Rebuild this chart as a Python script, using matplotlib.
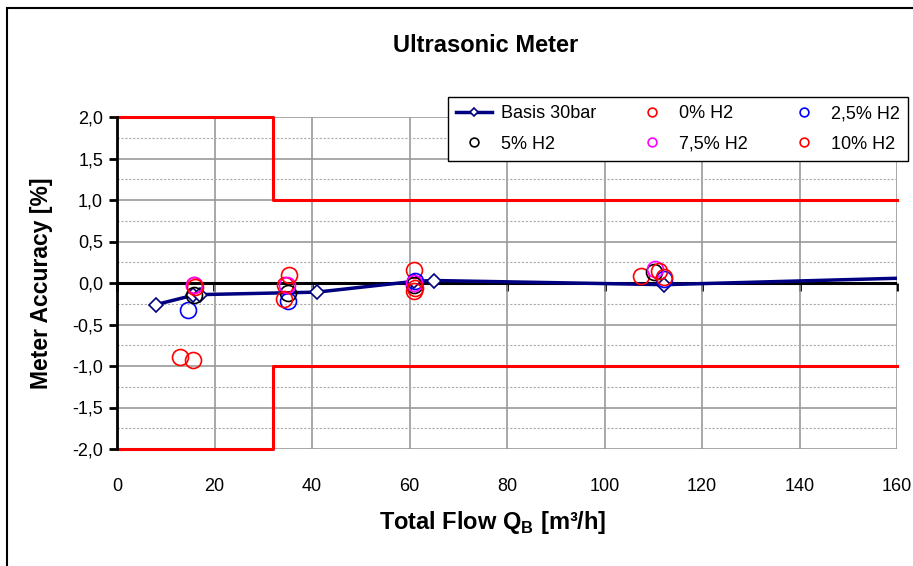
import numpy as np
import matplotlib.pyplot as plt
from matplotlib.patches import Rectangle
from matplotlib.ticker import MultipleLocator, FuncFormatter

plt.rcParams['font.family'] = ['Liberation Sans', 'DejaVu Sans']
plt.rcParams['mathtext.fontset'] = 'custom'
plt.rcParams['mathtext.rm'] = 'Liberation Sans'
plt.rcParams['mathtext.bf'] = 'Liberation Sans:bold'

# Basis 30bar reference curve
basis_x = [8.0, 15.5, 17.0, 41.0, 61.0, 65.0, 112.3, 168.0]
basis_y = [-0.26, -0.15, -0.14, -0.11, 0.02, 0.03, -0.02, 0.07]

# hydrogen blends
h0_x = [15.7, 34.5, 61.0, 107.5]
h0_y = [-0.02, -0.02, 0.16, 0.08]
h25_x = [14.6, 35.0, 61.1, 112.3]
h25_y = [-0.33, -0.22, 0.03, 0.05]
h5_x = [15.7, 35.0, 61.0, 110.2]
h5_y = [-0.15, -0.12, -0.02, 0.13]
h75_x = [15.8, 34.8, 60.9, 110.3]
h75_y = [-0.03, -0.03, 0.0, 0.17]
h10_x = [13.0, 15.6, 15.9, 35.3, 34.3, 61.1, 61.0, 111.2, 112.3]
h10_y = [-0.89, -0.93, -0.05, 0.10, -0.19, -0.06, -0.10, 0.14, 0.07]

# accuracy limits
lim_x = [0, 32, 32, 160]
lim_up = [2.0, 2.0, 1.0, 1.0]
lim_lo = [-2.0, -2.0, -1.0, -1.0]

fig = plt.figure(figsize=(9.13, 5.66), dpi=100)
ax = fig.add_axes([117/913, 1-449/566, 780/913, 332/566])

ax.set_xlim(0, 160)
ax.set_ylim(-2, 2)
ax.xaxis.set_major_locator(MultipleLocator(20))
ax.yaxis.set_major_locator(MultipleLocator(0.5))
ax.yaxis.set_minor_locator(MultipleLocator(0.25))
ax.grid(True, which='major', color='#999999', lw=1.2)
ax.grid(True, which='minor', axis='y', color='#aaaaaa', lw=0.8, ls=(0, (2, 1.5)))
ax.set_axisbelow(True)
for s in ['top', 'right', 'bottom']:
    ax.spines[s].set_visible(False)
ax.spines['left'].set_linewidth(2)
ax.yaxis.set_major_formatter(FuncFormatter(lambda v, p: f'{v:.1f}'.replace('.', ',')))
ax.tick_params(axis='y', which='major', length=6, width=2, labelsize=13, pad=4)
ax.tick_params(axis='y', which='minor', length=0)
ax.tick_params(axis='x', length=0, labelsize=13, pad=21)

# zero line with tick marks
ax.axhline(0, color='black', lw=2.2, zorder=1.5)
sec = ax.secondary_xaxis(0, transform=ax.transData)
sec.spines['bottom'].set_visible(False)
sec.xaxis.set_major_locator(MultipleLocator(20))
sec.tick_params(axis='x', length=6, width=2, labelbottom=False, direction='out')

ax.plot(lim_x, lim_up, color='red', lw=2.2, clip_on=False, zorder=2)
ax.plot(lim_x, lim_lo, color='red', lw=2.2, clip_on=False, zorder=2)

ax.plot(basis_x, basis_y, color='#000080', lw=2.5, marker='D', ms=7,
        mfc='white', mec='#000080', mew=1.2, label='Basis 30bar', zorder=3)
ms = 11.5
ax.plot(h0_x, h0_y, 'o', ms=ms, mfc='none', mec='red', mew=1.2, label='0% H2', zorder=4)
ax.plot(h25_x, h25_y, 'o', ms=ms, mfc='none', mec='blue', mew=1.2, label='2,5% H2', zorder=4)
ax.plot(h5_x, h5_y, 'o', ms=ms, mfc='none', mec='black', mew=1.2, label='5% H2', zorder=4)
ax.plot(h75_x, h75_y, 'o', ms=ms, mfc='none', mec='magenta', mew=1.2, label='7,5% H2', zorder=4)
ax.plot(h10_x, h10_y, 'o', ms=ms, mfc='none', mec='red', mew=1.2, label='10% H2', zorder=4)

handles, labels = ax.get_legend_handles_labels()
order = [0, 3, 1, 4, 2, 5]
leg = ax.legend([handles[i] for i in order], [labels[i] for i in order],
                ncol=3, loc='upper right', bbox_to_anchor=(908/913, 1-97/566),
                bbox_transform=fig.transFigure, borderaxespad=0, fontsize=13,
                markerscale=0.55, frameon=True, fancybox=False, edgecolor='black',
                framealpha=1, handlelength=2.0, columnspacing=2.1, borderpad=0.45,
                labelspacing=0.75, handletextpad=0.5)
leg.get_frame().set_linewidth(1.0)

ax.set_title('Ultrasonic Meter', fontsize=17, fontweight='bold', pad=47, x=0.472)
ax.set_xlabel(r'Total Flow Q$_\mathbf{B}$ [m³/h]', fontsize=17, fontweight='bold',
              labelpad=10, x=0.482)
ax.set_ylabel('Meter Accuracy [%]', fontsize=16.5, fontweight='bold', labelpad=14)

fig.patches.append(Rectangle((7/913, -0.1), 1.2, 1.1 - 8/566, transform=fig.transFigure,
                             fill=False, edgecolor='black', lw=1.5))

fig.savefig('out.png', dpi=100)
